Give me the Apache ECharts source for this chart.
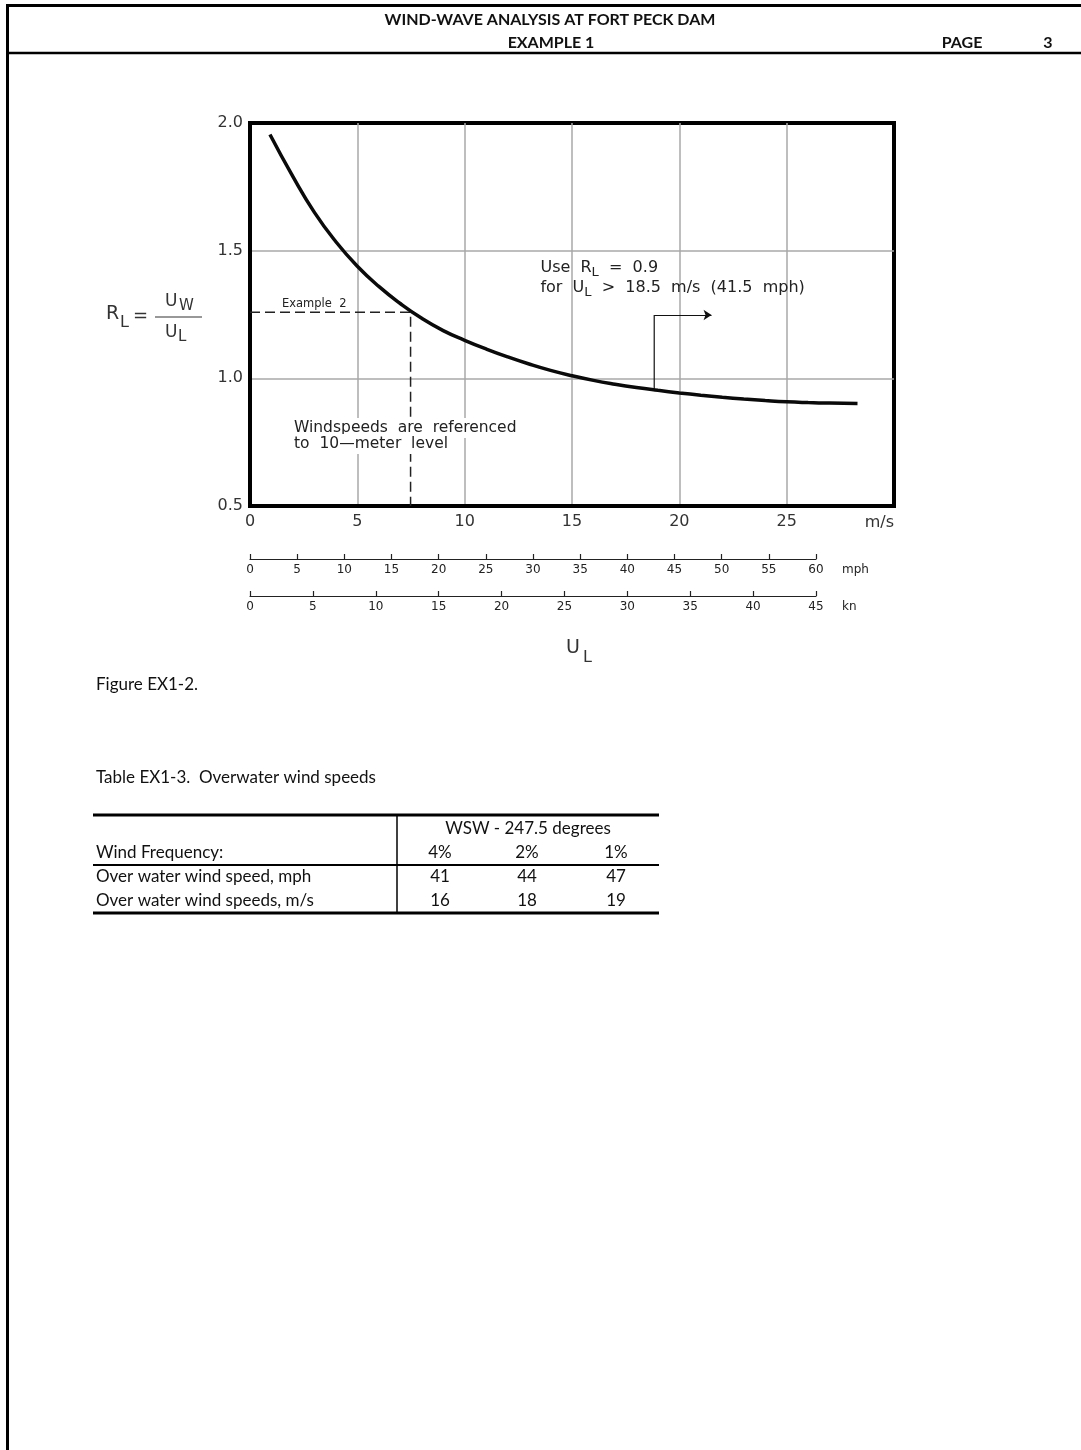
<!DOCTYPE html>
<html><head><meta charset="utf-8">
<script src="https://cdn.jsdelivr.net/npm/echarts@6/dist/echarts.min.js"></script>
<style>html,body{margin:0;padding:0;background:#fff}#c{width:1081px;height:1450px}</style>
</head><body><div id="c"></div>
<script>
// ---- chart data ----
const windSpeedMs = [0.93, 2, 3, 4, 5, 6, 7, 8, 9, 10, 11, 12, 13, 14, 15, 16, 17, 18, 19, 20, 21, 22, 23, 24, 25, 26, 27, 28.3];
const ratioRL     = [1.955, 1.79, 1.65, 1.535, 1.439, 1.36, 1.293, 1.235, 1.187, 1.149, 1.115, 1.084, 1.056, 1.031, 1.01, 0.992, 0.977, 0.964, 0.953, 0.943, 0.934, 0.926, 0.919, 0.913, 0.908, 0.905, 0.903, 0.901];
const msAxis  = [0, 30, 5];     // min, max, interval (m/s)
const rlAxis  = [0.5, 2.0, 0.5];
const mphAxis = [0, 60, 5];
const knAxis  = [0, 45, 5];
const example2 = [7.48, 1.259];             // U_L, R_L
const leader = [18.83, 0.956, 1.248, 21.5]; // x, from R, to R, arrow end x
const noteUse = [13.53, 1.431];
const noteWind = [2.05, 0.805];
const noteEx = [1.49, 1.259];

// ---- table data ----
const tableTitle = 'Table EX1-3.  Overwater wind speeds';
const tableGroup = 'WSW - 247.5 degrees';
const rowLabels = ['Wind Frequency:', 'Over water wind speed, mph', 'Over water wind speeds, m/s'];
const frequencies = ['4%', '2%', '1%'];
const speedsMph = [41, 44, 47];
const speedsMs = [16, 18, 19];

const CAD = 'DejaVu Sans';
const DOC = 'Lato';
const chart = echarts.init(document.getElementById('c'));

function subAxis(grid, ax, unit) {
  return {
    gridIndex: grid, type: 'value', min: ax[0], max: ax[1], interval: ax[2], position: 'bottom',
    axisLine: {show: true, onZero: false, lineStyle: {color: '#222', width: 1.2}},
    axisTick: {show: true, inside: true, length: 5, lineStyle: {color: '#222', width: 1.2}},
    axisLabel: {margin: 5, fontFamily: CAD, fontSize: 12, color: '#222'},
    splitLine: {show: false},
    name: unit, nameLocation: 'end', nameGap: 26,
    nameTextStyle: {fontFamily: CAD, fontSize: 12, color: '#222', verticalAlign: 'top', align: 'left', padding: [5, 0, 0, 0]}
  };
}

chart.setOption({
  animation: false,
  grid: [
    {left: 250, top: 123, width: 644, height: 383, show: true, borderColor: '#000', borderWidth: 4},
    {left: 250, top: 558, width: 566, height: 1},
    {left: 250, top: 595, width: 566, height: 1}
  ],
  xAxis: [
    {gridIndex: 0, type: 'value', min: msAxis[0], max: msAxis[1], interval: msAxis[2],
     axisLine: {show: true, lineStyle: {color: '#000', width: 4}}, axisTick: {show: false},
     axisLabel: {margin: 8, fontFamily: CAD, fontSize: 16, color: '#333', formatter: v => v === msAxis[1] ? '' : String(v)},
     splitLine: {show: true, showMinLine: false, showMaxLine: false, lineStyle: {color: '#a8a8a8', width: 1.5}}},
    subAxis(1, mphAxis, 'mph'),
    subAxis(2, knAxis, 'kn')
  ],
  yAxis: [
    {gridIndex: 0, type: 'value', min: rlAxis[0], max: rlAxis[1], interval: rlAxis[2],
     axisLine: {show: true, lineStyle: {color: '#000', width: 4}}, axisTick: {show: false},
     axisLabel: {margin: 7, fontFamily: CAD, fontSize: 16, color: '#333', formatter: v => v.toFixed(1)},
     splitLine: {show: true, showMinLine: false, showMaxLine: false, lineStyle: {color: '#a8a8a8', width: 1.5}}},
    {gridIndex: 1, show: false, min: 0, max: 1},
    {gridIndex: 2, show: false, min: 0, max: 1}
  ],
  series: [
    {type: 'line', xAxisIndex: 0, yAxisIndex: 0, symbol: 'none', smooth: 0.5,
     data: windSpeedMs.map((x, i) => [x, ratioRL[i]]),
     lineStyle: {color: '#0a0a0a', width: 3.5}, z: 5},
    {type: 'line', xAxisIndex: 0, yAxisIndex: 0, symbol: 'none',
     data: [[msAxis[0], example2[1]], [example2[0], example2[1]], [example2[0], rlAxis[0]]],
     lineStyle: {color: '#222', width: 1.5, type: [10, 5]}, z: 3},
    {type: 'line', xAxisIndex: 0, yAxisIndex: 0, symbol: 'none',
     data: [[leader[0], leader[1]], [leader[0], leader[2]]],
     lineStyle: {color: '#111', width: 1.2}, z: 4},
    {type: 'lines', coordinateSystem: 'cartesian2d', xAxisIndex: 0, yAxisIndex: 0,
     symbol: ['none', 'arrow'], symbolSize: 8,
     data: [{coords: [[leader[0], leader[2]], [leader[3], leader[2]]]}],
     lineStyle: {color: '#111', width: 1.2, opacity: 1, curveness: 0}, z: 4}
  ]
});

const P = (pt) => chart.convertToPixel({gridIndex: 0}, pt);
const g = [];
function txt(x, y, text, font, size, opts) {
  g.push({type: 'text', x: x, y: y, z: 10, silent: true,
    style: Object.assign({text: text, fontFamily: font, fontSize: size, fill: '#111', textAlign: 'left', textVerticalAlign: 'middle'}, opts || {})});
}
function line(x1, y1, x2, y2, w, color) {
  g.push({type: 'line', z: 10, silent: true, shape: {x1, y1, x2, y2}, style: {stroke: color || '#000', lineWidth: w}});
}

// page frame and header
line(7.5, 4, 7.5, 1450, 3);
line(6, 5.5, 1081, 5.5, 3);
line(6, 53, 1081, 53, 2.5);
txt(550, 20, 'WIND-WAVE ANALYSIS AT FORT PECK DAM', DOC, 16, {fontWeight: 'bold', textAlign: 'center'});
txt(551, 43, 'EXAMPLE 1', DOC, 16, {fontWeight: 'bold', textAlign: 'center'});
txt(962, 43, 'PAGE', DOC, 16, {fontWeight: 'bold', textAlign: 'center'});
txt(1048, 43, '3', DOC, 16, {fontWeight: 'bold', textAlign: 'center'});

// plot annotations anchored on data coordinates
const pe = P(noteEx);
txt(pe[0], pe[1] - 8, 'Example  2', CAD, 11.5, {fill: '#222'});
const pw = P(noteWind);
txt(pw[0], pw[1], 'Windspeeds  are  referenced', CAD, 15.5, {fill: '#222', backgroundColor: '#fff', padding: [2, 0, 2, 0]});
txt(pw[0], pw[1] + 16, 'to  10\u2014meter  level', CAD, 15.5, {fill: '#222', backgroundColor: '#fff', padding: [2, 0, 2, 0]});
const pu = P(noteUse);
const rich = {n: {fontFamily: CAD, fontSize: 16, fill: '#222', lineHeight: 22, verticalAlign: 'middle'},
              s: {fontFamily: CAD, fontSize: 13, fill: '#222', lineHeight: 12, verticalAlign: 'bottom'}};
g.push({type: 'text', x: pu[0], y: pu[1], z: 10, silent: true,
  style: {text: '{n|Use  R}{s|L}{n|  =  0.9}', rich: rich, textVerticalAlign: 'middle'}});
g.push({type: 'text', x: pu[0], y: pu[1] + 20, z: 10, silent: true,
  style: {text: '{n|for  U}{s|L}{n|  >  18.5  m/s  (41.5  mph)}', rich: rich, textVerticalAlign: 'middle'}});
const pm = P([msAxis[1], rlAxis[0]]);
txt(pm[0], pm[1] + 17, 'm/s', CAD, 16, {fill: '#333', textAlign: 'right'});

// y-axis formula R_L = U_W / U_L
txt(106, 314, 'R', CAD, 19, {fill: '#333'});
txt(120, 323, 'L', CAD, 16, {fill: '#333'});
txt(133, 316, '=', CAD, 18, {fill: '#333'});
line(155, 317, 202, 317, 1.2, '#333');
txt(165, 302, 'U', CAD, 17, {fill: '#333'});
txt(179, 306, 'W', CAD, 15, {fill: '#333'});
txt(165, 333, 'U', CAD, 17, {fill: '#333'});
txt(178, 337, 'L', CAD, 15, {fill: '#333'});

// x-axis title U_L
txt(566, 648, 'U', CAD, 19, {fill: '#333'});
txt(583, 658, 'L', CAD, 16, {fill: '#333'});

txt(96, 685, 'Figure EX1-2.', DOC, 17);

// table
txt(96, 778, tableTitle, DOC, 17);
line(93, 815, 659, 815, 3);
line(93, 865, 659, 865, 2);
line(93, 913, 659, 913, 3);
line(397, 815, 397, 913, 1.5);
txt(528, 829, tableGroup, DOC, 17, {textAlign: 'center'});
const colX = [440, 527, 616];
const rowY = [853, 877, 901];
rowLabels.forEach((t, i) => txt(96, rowY[i], t, DOC, 17));
[frequencies, speedsMph, speedsMs].forEach((row, r) =>
  row.forEach((v, c) => txt(colX[c], rowY[r], String(v), DOC, 17, {textAlign: 'center'})));

chart.setOption({graphic: {elements: g}});
</script>
</body></html>
